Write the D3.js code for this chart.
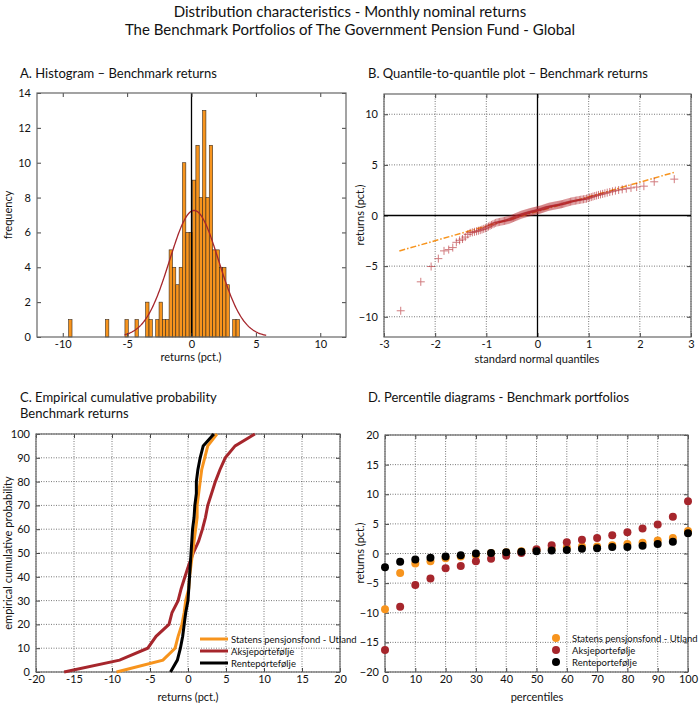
<!DOCTYPE html>
<html><head><meta charset="utf-8">
<script src="https://cdn.jsdelivr.net/npm/d3@7"></script>
<style>body{margin:0;background:#fff}svg{font-family:Lato,"Open Sans",sans-serif}</style>
</head><body><svg id="c" width="700" height="715"></svg>
<script>
// ---- data ----
const binWidth = 0.26, binOrigin = 0.08;
const histCenters = [-9.41,-6.55,-5.04,-4.26,-3.43,-3.17,-2.65,-2.39,-2.13,-1.87,-1.61,-1.35,-1.09,-0.83,-0.57,-0.31,-0.05,0.21,0.47,0.73,0.99,1.25,1.51,1.77,2.03,2.29,2.55,2.81,3.33,3.59];
const histCounts  = [1,1,1,1,2,1,1,2,1,1,5,4,3,4,10,6,6,9,11,8,13,8,11,5,5,4,4,3,1,1];
const fitMean = 0.2, fitSd = 1.9, fitRange = [-5.2, 5.8];
const qqLineEnds = [[-2.7,-3.5],[2.7,4.3]];
const percentiles = [0,5,10,15,20,25,30,35,40,45,50,55,60,65,70,75,80,85,90,95,100];
const spu   = [-9.4,-3.3,-1.7,-1.3,-0.8,-0.5,-0.3,0.1,0.2,0.4,0.6,0.8,1.0,1.2,1.2,1.4,1.6,1.8,2.2,2.6,3.8];
const aksje = [-16.3,-9.0,-5.3,-4.2,-2.5,-2.1,-1.3,-0.9,-0.4,0.1,0.7,1.4,1.9,2.3,2.6,3.1,3.6,4.2,4.9,6.2,8.8];
const rente = [-2.3,-1.4,-1.0,-0.7,-0.5,-0.3,0.0,0.1,0.2,0.3,0.4,0.5,0.6,0.8,0.9,1.1,1.1,1.3,1.6,2.0,3.4];
const seriesNames = ["Statens pensjonsfond - Utland","Aksjeportefølje","Renteportefølje"];
const colors = ["#f7941d","#a6262c","#000000"];

const svg = d3.select("#c");
const txt=(x,y,s,o={})=>{const t=svg.append("text").attr("x",x).attr("y",y).text(s).attr("font-size",o.size||11).attr("fill","#111").attr("text-anchor",o.anchor||"start");if(o.rot)t.attr("transform",`rotate(-90,${x},${y})`);return t;};
txt(350,17,"Distribution characteristics - Monthly nominal returns",{size:15,anchor:"middle"});
txt(350,35,"The Benchmark Portfolios of The Government Pension Fund - Global",{size:15,anchor:"middle"});
txt(20,78,"A. Histogram – Benchmark returns",{size:13});
txt(368,78,"B. Quantile-to-quantile plot – Benchmark returns",{size:13});
txt(20,402,"C. Empirical cumulative probability",{size:13});
txt(20,418,"Benchmark returns",{size:13});
txt(368,402,"D. Percentile diagrams - Benchmark portfolios",{size:13});

function axes(x,y,xt,yt,grid,fmtX){
  const g=svg.append("g");
  const [x0,x1]=x.range(),[y0,y1]=y.range();
  if(grid){
    xt.forEach(v=>g.append("line").attr("x1",x(v)).attr("x2",x(v)).attr("y1",y0).attr("y2",y1).attr("stroke","#555").attr("stroke-dasharray","1,1.5").attr("stroke-width",0.8));
    yt.forEach(v=>g.append("line").attr("y1",y(v)).attr("y2",y(v)).attr("x1",x0).attr("x2",x1).attr("stroke","#555").attr("stroke-dasharray","1,1.5").attr("stroke-width",0.8));
  }
  g.append("g").attr("transform",`translate(0,${y0})`).call(d3.axisBottom(x).tickValues(xt).tickSize(-4).tickPadding(3).tickFormat(fmtX||(d=>d))).call(a=>a.select(".domain").remove());
  g.append("g").attr("transform",`translate(${x0},0)`).call(d3.axisLeft(y).tickValues(yt).tickSize(-4).tickPadding(6)).call(a=>a.select(".domain").remove());
  g.append("g").attr("transform",`translate(${x1},0)`).call(d3.axisRight(y).tickValues(yt).tickSize(-4).tickFormat("")).call(a=>a.select(".domain").remove());
  g.append("g").attr("transform",`translate(0,${y1})`).call(d3.axisTop(x).tickValues(xt).tickSize(-4).tickFormat("")).call(a=>a.select(".domain").remove());
  g.selectAll("text").attr("font-size",11).attr("fill","#111").attr("font-family","Lato,sans-serif");
  g.selectAll(".tick line").attr("stroke","#444");
  svg.append("rect").attr("x",x0).attr("y",y1).attr("width",x1-x0).attr("height",y0-y1).attr("fill","none").attr("stroke","#666").attr("stroke-width",1.2);
}

// ---- A ----
{
const x=d3.scaleLinear().domain([-12,12]).range([37,346]);
const y=d3.scaleLinear().domain([0,14]).range([337,93]);
svg.selectAll(".bar").data(histCenters).join("rect")
 .attr("x",d=>x(d-binWidth/2)).attr("width",d=>x(d+binWidth/2)-x(d-binWidth/2))
 .attr("y",(d,i)=>y(histCounts[i])).attr("height",(d,i)=>y(0)-y(histCounts[i]))
 .attr("fill","#f7941d").attr("stroke","#3a2a1a").attr("stroke-width",0.6);
const n=d3.sum(histCounts);
const pts=d3.range(fitRange[0],fitRange[1]+0.001,0.05).map(v=>[v,n*binWidth*Math.exp(-0.5*((v-fitMean)/fitSd)**2)/(fitSd*Math.sqrt(2*Math.PI))]);
svg.append("path").attr("d",d3.line(d=>x(d[0]),d=>y(d[1]))(pts)).attr("fill","none").attr("stroke","#a6262c").attr("stroke-width",1.3);
svg.append("line").attr("x1",x(0)).attr("x2",x(0)).attr("y1",y(0)).attr("y2",y(14)).attr("stroke","#000").attr("stroke-width",1.3);
axes(x,y,[-10,-5,0,5,10],[0,2,4,6,8,10,12,14],false);
txt(191,361,"returns (pct.)",{anchor:"middle"});
txt(12,215,"frequency",{anchor:"middle",rot:true});
}
// ---- B ----
{
const x=d3.scaleLinear().domain([-3,3]).range([384,691]);
const y=d3.scaleLinear().domain([-12,12]).range([337,94]);
axes(x,y,[-3,-2,-1,0,1,2,3],[-10,-5,0,5,10],true);
svg.append("line").attr("x1",x(0)).attr("x2",x(0)).attr("y1",y(-12)).attr("y2",y(12)).attr("stroke","#000").attr("stroke-width",1.3);
svg.append("line").attr("y1",y(0)).attr("y2",y(0)).attr("x1",x(-3)).attr("x2",x(3)).attr("stroke","#000").attr("stroke-width",1.3);
const rets=[];
histCenters.forEach((c,i)=>{const k=histCounts[i];for(let j=0;j<k;j++)rets.push(c-binWidth/2+binWidth*(j+0.5)/k);});
rets.sort((a,b)=>a-b);
function ninv(p){
 const a=[-39.6968302866538,220.946098424521,-275.928510446969,138.357751867269,-30.6647980661472,2.50662827745924],
 b=[-54.4760987982241,161.585836858041,-155.698979859887,66.8013118877197,-13.2806815528857],
 c=[-0.00778489400243029,-0.322396458041136,-2.40075827716184,-2.54973253934373,4.37466414146497,2.93816398269878],
 d=[0.00778469570904146,0.32246712907004,2.445134137143,3.75440866190742];
 if(p<0.02425){const q=Math.sqrt(-2*Math.log(p));return(((((c[0]*q+c[1])*q+c[2])*q+c[3])*q+c[4])*q+c[5])/((((d[0]*q+d[1])*q+d[2])*q+d[3])*q+1);}
 if(p>1-0.02425)return -ninv(1-p);
 const q=p-0.5,r=q*q;return(((((a[0]*r+a[1])*r+a[2])*r+a[3])*r+a[4])*r+a[5])*q/(((((b[0]*r+b[1])*r+b[2])*r+b[3])*r+b[4])*r+1);
}
const N=rets.length;
svg.append("path").attr("d",d3.line(d=>x(d[0]),d=>y(d[1]))(qqLineEnds)).attr("stroke","#f7941d").attr("stroke-width",1.5).attr("stroke-dasharray","6,2,1.5,2").attr("fill","none");
svg.selectAll(".qq").data(rets).join("path")
 .attr("transform",(d,i)=>`translate(${x(ninv((i+0.5)/N))},${y(d)})`)
 .attr("d","M-4,0H4M0,-4V4").attr("stroke","#b4262c").attr("stroke-width",1).attr("opacity",0.6);
txt(537,363,"standard normal quantiles",{anchor:"middle"});
txt(364,215,"returns (pct.)",{anchor:"middle",rot:true});
}
// ---- C ----
const sets=[spu,aksje,rente];
{
const x=d3.scaleLinear().domain([-20,20]).range([36,340]);
const y=d3.scaleLinear().domain([0,100]).range([672,434]);
axes(x,y,d3.range(-20,21,5),d3.range(0,101,10),true);
[1,0,2].forEach(k=>svg.append("path").attr("d",d3.line((d,i)=>x(d),(d,i)=>y(percentiles[i]))(sets[k])).attr("fill","none").attr("stroke",colors[k]).attr("stroke-width",3));
seriesNames.forEach((s,k)=>{const yy=639+k*12;
 svg.append("line").attr("x1",200).attr("x2",228).attr("y1",yy).attr("y2",yy).attr("stroke",colors[k]).attr("stroke-width",3);
 txt(231,yy+3.5,s,{size:9.5});});
txt(188,701,"returns (pct.)",{anchor:"middle"});
txt(12,553,"empirical cumulative probability",{anchor:"middle",rot:true});
}
// ---- D ----
{
const x=d3.scaleLinear().domain([0,100]).range([385,688]);
const y=d3.scaleLinear().domain([-20,20]).range([672,435]);
axes(x,y,d3.range(0,101,10),d3.range(-20,21,5),true);
[0,1,2].forEach(k=>svg.selectAll(".d"+k).data(sets[k]).join("circle")
 .attr("cx",(d,i)=>x(percentiles[i])).attr("cy",d=>y(d)).attr("r",4).attr("fill",colors[k]));
seriesNames.forEach((s,k)=>{const yy=638+k*12;
 svg.append("circle").attr("cx",556).attr("cy",yy).attr("r",4).attr("fill",colors[k]);
 txt(572,yy+3.5,s,{size:9.5});});
txt(537,701,"percentiles",{anchor:"middle"});
txt(364,553,"returns (pct.)",{anchor:"middle",rot:true});
}
</script></body></html>
